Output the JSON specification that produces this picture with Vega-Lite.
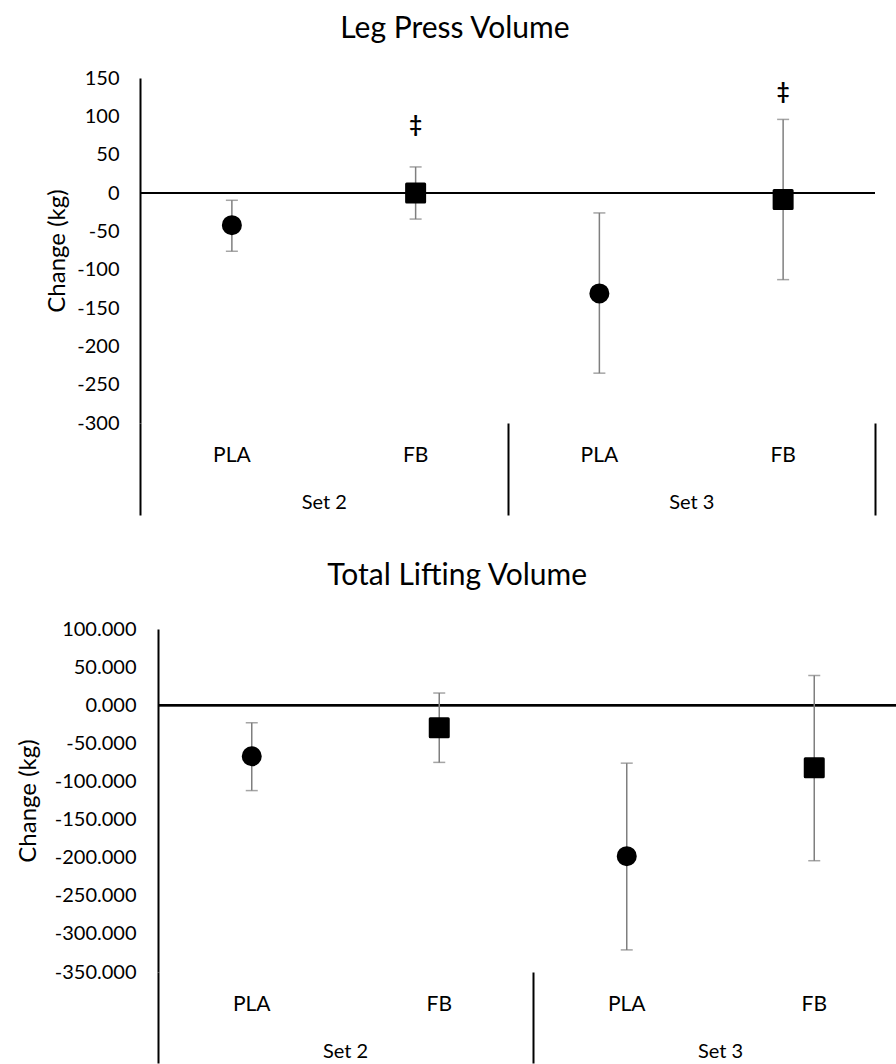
{
  "$schema": "https://vega.github.io/schema/vega-lite/v6.json",
  "background": "white",
  "padding": {"left": 16, "top": 14, "right": 0, "bottom": 0},
  "spacing": 45,
  "config": {
    "font": "Lato",
    "view": {"stroke": null},
    "axis": {
      "labelFont": "Lato",
      "labelFontSize": 20,
      "labelColor": "#000",
      "titleFont": "Lato",
      "titleFontSize": 24,
      "titleFontWeight": "normal",
      "titleColor": "#000",
      "grid": false
    },
    "axisY": {"labelOverlap": false, "tickCount": 10},
    "title": {"font": "Lato", "fontSize": 30, "fontWeight": "normal", "color": "#000", "anchor": "middle", "frame": "bounds", "baseline": "bottom"}
  },
  "datasets": {
    "leg": [
      {"set": "Set 2", "trt": "PLA", "group": "Set 2 PLA", "mean": -42, "lo": -76, "hi": -9.5},
      {"set": "Set 2", "trt": "FB", "group": "Set 2 FB", "mean": 0, "lo": -34, "hi": 34, "sig": "‡", "sig_y": 89},
      {"set": "Set 3", "trt": "PLA", "group": "Set 3 PLA", "mean": -131, "lo": -235, "hi": -26},
      {"set": "Set 3", "trt": "FB", "group": "Set 3 FB", "mean": -8.5, "lo": -113, "hi": 96, "sig": "‡", "sig_y": 132}
    ],
    "total": [
      {"set": "Set 2", "trt": "PLA", "group": "Set 2 PLA", "mean": -67, "lo": -112, "hi": -23},
      {"set": "Set 2", "trt": "FB", "group": "Set 2 FB", "mean": -29.5, "lo": -75, "hi": 16},
      {"set": "Set 3", "trt": "PLA", "group": "Set 3 PLA", "mean": -198, "lo": -321, "hi": -76},
      {"set": "Set 3", "trt": "FB", "group": "Set 3 FB", "mean": -82, "lo": -204, "hi": 39}
    ]
  },
  "vconcat": [
    {
      "title": {"text": "Leg Press Volume", "offset": 24, "dx": -6},
      "data": {"name": "leg"},
      "width": 735,
      "height": 345,
      "resolve": {"scale": {"x": "independent"}, "axis": {"x": "independent"}},
      "layer": [
        {
          "mark": {"type": "rule", "color": "#000", "strokeWidth": 2},
          "encoding": {
            "x": {
              "datum": "Set 2",
              "type": "nominal",
              "bandPosition": 0,
              "scale": {"type": "band", "domain": ["Set 2", "Set 3"], "paddingInner": 0, "paddingOuter": 0},
              "axis": {"orient": "bottom", "domain": false, "tickBand": "extent", "tickSize": 92, "tickWidth": 2, "tickColor": "#000", "labelPadding": -13, "labelBaseline": "middle", "labelAngle": 0, "title": null}
            },
            "x2": {"value": "width"},
            "y": {
              "datum": 0,
              "type": "quantitative",
              "title": "Change (kg)",
              "scale": {"domain": [-300, 150], "nice": false, "zero": false},
              "axis": {
                "values": [-300, -250, -200, -150, -100, -50, 0, 50, 100, 150],
                "labelExpr": "replace(format(datum.value, 'd'), '\u2212', '-')",
                "labelOverlap": false,
                "domain": true, "domainColor": "#000", "domainWidth": 2,
                "ticks": false, "tickSize": 0, "labelPadding": 21, "titlePadding": 7
              }
            }
          }
        },
        {
          "encoding": {
            "x": {
              "field": "group",
              "type": "nominal",
              "scale": {"type": "band", "domain": ["Set 2 PLA", "Set 2 FB", "Set 3 PLA", "Set 3 FB"], "paddingInner": 0, "paddingOuter": 0},
              "axis": {"orient": "bottom", "domain": false, "ticks": false, "tickSize": 0, "labelPadding": 32, "labelBaseline": "middle", "labelAngle": 0, "labelFontSize": 21, "labelExpr": "split(datum.label, ' ')[2]", "title": null}
            }
          },
          "layer": [
            {
              "mark": {"type": "rule", "color": "#7f7f7f", "strokeWidth": 1.5},
              "encoding": {
                "y": {"field": "lo", "type": "quantitative", "title": "Change (kg)"},
                "y2": {"field": "hi", "title": "Change (kg)"}
              }
            },
            {
              "mark": {"type": "tick", "color": "#7f7f7f", "thickness": 1.5, "size": 12, "orient": "horizontal"},
              "encoding": {"y": {"field": "lo", "type": "quantitative", "title": "Change (kg)"}}
            },
            {
              "mark": {"type": "tick", "color": "#7f7f7f", "thickness": 1.5, "size": 12, "orient": "horizontal"},
              "encoding": {"y": {"field": "hi", "type": "quantitative", "title": "Change (kg)"}}
            },
            {
              "mark": {"type": "point", "filled": true, "color": "#000", "stroke": "#000", "strokeWidth": 3, "strokeJoin": "round", "opacity": 1},
              "encoding": {
                "y": {"field": "mean", "type": "quantitative", "title": "Change (kg)"},
                "shape": {"field": "trt", "type": "nominal", "scale": {"domain": ["PLA", "FB"], "range": ["circle", "square"]}, "legend": null},
                "size": {"field": "trt", "type": "ordinal", "scale": {"domain": ["PLA", "FB"], "range": [290, 324]}, "legend": null}
              }
            },
            {
              "transform": [{"filter": "isValid(datum.sig_y)"}],
              "mark": {"type": "text", "fontSize": 22, "fontWeight": "bold", "color": "#000", "baseline": "middle"},
              "encoding": {
                "y": {"field": "sig_y", "type": "quantitative", "title": "Change (kg)"},
                "text": {"field": "sig"}
              }
            }
          ]
        }
      ]
    },
    {
      "title": {"text": "Total Lifting Volume", "offset": 28},
      "data": {"name": "total"},
      "width": 757,
      "height": 343,
      "resolve": {"scale": {"x": "independent"}, "axis": {"x": "independent"}},
      "layer": [
        {
          "mark": {"type": "rule", "color": "#000", "strokeWidth": 2},
          "encoding": {
            "x": {
              "datum": "Set 2",
              "type": "nominal",
              "bandPosition": 0,
              "scale": {"type": "band", "domain": ["Set 2", "Set 3"], "range": [18, 768], "paddingInner": 0, "paddingOuter": 0},
              "axis": {"orient": "bottom", "domain": false, "bandPosition": 0, "tickSize": 91, "tickWidth": 2, "tickColor": "#000", "labelPadding": -12, "labelBaseline": "middle", "labelAngle": 0, "title": null}
            },
            "x2": {"value": "width"},
            "y": {
              "datum": 0,
              "type": "quantitative",
              "title": "Change (kg)",
              "scale": {"domain": [-350, 100], "nice": false, "zero": false},
              "axis": {
                "values": [-350, -300, -250, -200, -150, -100, -50, 0, 50, 100],
                "labelExpr": "replace(format(datum.value, '.3f'), '\u2212', '-')",
                "labelOverlap": false,
                "offset": -18,
                "domain": true, "domainColor": "#000", "domainWidth": 2,
                "ticks": false, "tickSize": 0, "labelPadding": 22, "titlePadding": 14
              }
            }
          }
        },
        {
          "encoding": {
            "x": {
              "field": "group",
              "type": "nominal",
              "scale": {"type": "band", "domain": ["Set 2 PLA", "Set 2 FB", "Set 3 PLA", "Set 3 FB"], "range": [18, 768], "paddingInner": 0, "paddingOuter": 0},
              "axis": {"orient": "bottom", "domain": false, "ticks": false, "tickSize": 0, "labelPadding": 32, "labelBaseline": "middle", "labelAngle": 0, "labelFontSize": 21, "labelExpr": "split(datum.label, ' ')[2]", "title": null}
            }
          },
          "layer": [
            {
              "mark": {"type": "rule", "color": "#7f7f7f", "strokeWidth": 1.5},
              "encoding": {
                "y": {"field": "lo", "type": "quantitative", "title": "Change (kg)"},
                "y2": {"field": "hi", "title": "Change (kg)"}
              }
            },
            {
              "mark": {"type": "tick", "color": "#7f7f7f", "thickness": 1.5, "size": 12, "orient": "horizontal"},
              "encoding": {"y": {"field": "lo", "type": "quantitative", "title": "Change (kg)"}}
            },
            {
              "mark": {"type": "tick", "color": "#7f7f7f", "thickness": 1.5, "size": 12, "orient": "horizontal"},
              "encoding": {"y": {"field": "hi", "type": "quantitative", "title": "Change (kg)"}}
            },
            {
              "mark": {"type": "point", "filled": true, "color": "#000", "stroke": "#000", "strokeWidth": 3, "strokeJoin": "round", "opacity": 1},
              "encoding": {
                "y": {"field": "mean", "type": "quantitative", "title": "Change (kg)"},
                "shape": {"field": "trt", "type": "nominal", "scale": {"domain": ["PLA", "FB"], "range": ["circle", "square"]}, "legend": null},
                "size": {"field": "trt", "type": "ordinal", "scale": {"domain": ["PLA", "FB"], "range": [290, 324]}, "legend": null}
              }
            }
          ]
        }
      ]
    }
  ]
}
